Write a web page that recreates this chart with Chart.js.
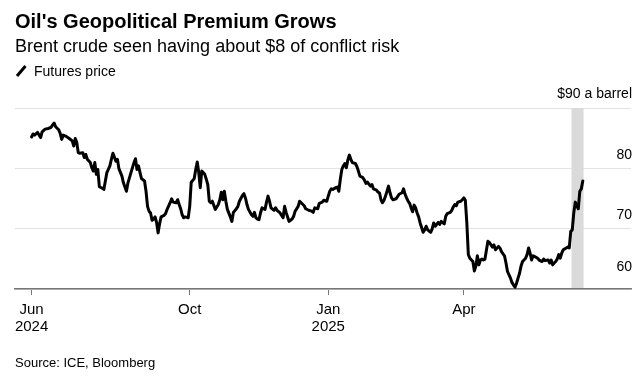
<!DOCTYPE html>
<html><head><meta charset="utf-8">
<script src="https://cdn.jsdelivr.net/npm/chart.js@4.4.1/dist/chart.umd.min.js"></script>
<style>
html,body{margin:0;padding:0;background:#fff;}
#wrap{position:relative;width:636px;height:378px;overflow:hidden;font-family:"Liberation Sans",Arial,sans-serif;color:#000;}
#c{position:absolute;left:0;top:0;}
.t{position:absolute;left:15px;white-space:nowrap;line-height:1;}
#title{top:10.5px;font-size:20px;font-weight:bold;}
#sub{top:37.3px;font-size:18px;}
#leg{top:63.8px;font-size:14px;left:34px;}
#legicon{position:absolute;left:14px;top:64px;}
#src{top:355.5px;font-size:13px;}
</style></head>
<body><div id="wrap">
<canvas id="c" width="636" height="378"></canvas>
<div class="t" id="title">Oil's Geopolitical Premium Grows</div>
<div class="t" id="sub">Brent crude seen having about $8 of conflict risk</div>
<svg id="legicon" width="14" height="14"><line x1="3" y1="12" x2="11.5" y2="2" stroke="#000" stroke-width="3"/></svg>
<div class="t" id="leg">Futures price</div>
<div class="t" id="src">Source: ICE, Bloomberg</div>
</div>
<script>
const dates = ["2024-06-18","2024-06-19","2024-06-20","2024-06-22","2024-06-24","2024-06-25","2024-06-27","2024-06-29","2024-07-01","2024-07-02","2024-07-03","2024-07-04","2024-07-06","2024-07-07","2024-07-08","2024-07-09","2024-07-11","2024-07-13","2024-07-15","2024-07-16","2024-07-17","2024-07-18","2024-07-19","2024-07-20","2024-07-22","2024-07-23","2024-07-24","2024-07-25","2024-07-27","2024-07-28","2024-07-29","2024-07-30","2024-07-31","2024-08-01","2024-08-02","2024-08-04","2024-08-05","2024-08-07","2024-08-09","2024-08-10","2024-08-11","2024-08-13","2024-08-14","2024-08-15","2024-08-17","2024-08-18","2024-08-20","2024-08-21","2024-08-23","2024-08-25","2024-08-26","2024-08-27","2024-08-28","2024-08-29","2024-08-30","2024-09-01","2024-09-02","2024-09-03","2024-09-04","2024-09-05","2024-09-06","2024-09-07","2024-09-08","2024-09-09","2024-09-10","2024-09-11","2024-09-12","2024-09-14","2024-09-15","2024-09-16","2024-09-18","2024-09-19","2024-09-20","2024-09-22","2024-09-23","2024-09-24","2024-09-25","2024-09-26","2024-09-27","2024-09-28","2024-09-30","2024-10-01","2024-10-02","2024-10-04","2024-10-05","2024-10-06","2024-10-07","2024-10-08","2024-10-09","2024-10-11","2024-10-12","2024-10-13","2024-10-14","2024-10-15","2024-10-16","2024-10-18","2024-10-20","2024-10-21","2024-10-22","2024-10-23","2024-10-24","2024-10-25","2024-10-26","2024-10-28","2024-10-29","2024-10-30","2024-11-01","2024-11-02","2024-11-03","2024-11-05","2024-11-06","2024-11-07","2024-11-08","2024-11-09","2024-11-11","2024-11-12","2024-11-13","2024-11-14","2024-11-15","2024-11-16","2024-11-17","2024-11-18","2024-11-20","2024-11-21","2024-11-22","2024-11-23","2024-11-24","2024-11-26","2024-11-27","2024-11-28","2024-11-30","2024-12-01","2024-12-02","2024-12-03","2024-12-04","2024-12-05","2024-12-06","2024-12-08","2024-12-09","2024-12-10","2024-12-12","2024-12-13","2024-12-14","2024-12-16","2024-12-17","2024-12-19","2024-12-21","2024-12-22","2024-12-23","2024-12-25","2024-12-26","2024-12-28","2024-12-29","2024-12-31","2025-01-01","2025-01-02","2025-01-03","2025-01-04","2025-01-06","2025-01-07","2025-01-08","2025-01-09","2025-01-10","2025-01-11","2025-01-12","2025-01-13","2025-01-14","2025-01-15","2025-01-16","2025-01-17","2025-01-19","2025-01-20","2025-01-21","2025-01-22","2025-01-24","2025-01-25","2025-01-26","2025-01-27","2025-01-29","2025-01-30","2025-01-31","2025-02-02","2025-02-03","2025-02-04","2025-02-05","2025-02-06","2025-02-07","2025-02-08","2025-02-09","2025-02-10","2025-02-11","2025-02-12","2025-02-13","2025-02-15","2025-02-16","2025-02-17","2025-02-19","2025-02-20","2025-02-21","2025-02-22","2025-02-23","2025-02-24","2025-02-25","2025-02-26","2025-02-27","2025-02-28","2025-03-01","2025-03-02","2025-03-03","2025-03-05","2025-03-06","2025-03-07","2025-03-08","2025-03-10","2025-03-11","2025-03-12","2025-03-13","2025-03-15","2025-03-16","2025-03-17","2025-03-19","2025-03-20","2025-03-21","2025-03-23","2025-03-24","2025-03-25","2025-03-26","2025-03-27","2025-03-28","2025-03-30","2025-03-31","2025-04-01","2025-04-02","2025-04-03","2025-04-04","2025-04-05","2025-04-07","2025-04-08","2025-04-09","2025-04-10","2025-04-11","2025-04-12","2025-04-13","2025-04-14","2025-04-15","2025-04-17","2025-04-18","2025-04-20","2025-04-21","2025-04-22","2025-04-24","2025-04-25","2025-04-26","2025-04-28","2025-04-29","2025-04-30","2025-05-02","2025-05-03","2025-05-04","2025-05-05","2025-05-06","2025-05-07","2025-05-08","2025-05-09","2025-05-10","2025-05-12","2025-05-13","2025-05-14","2025-05-15","2025-05-16","2025-05-17","2025-05-18","2025-05-20","2025-05-21","2025-05-23","2025-05-24","2025-05-25","2025-05-27","2025-05-28","2025-05-29","2025-05-30","2025-05-31","2025-06-01","2025-06-02","2025-06-03","2025-06-04","2025-06-05","2025-06-06","2025-06-08","2025-06-09","2025-06-10","2025-06-11","2025-06-12","2025-06-13","2025-06-14","2025-06-15","2025-06-16","2025-06-17","2025-06-18","2025-06-19"];
const prices = [85.2,85.7,85.5,85.95,85.1,86.05,86.5,86.6,86.8,87.2,87.5,86.9,86.4,85.8,84.8,85.5,85.3,84.95,84.55,83.7,84.95,84.3,82.6,82.5,82.6,81.8,82.3,81.5,80.95,80.1,79.55,80.95,79,79.8,76.95,76.7,76.5,79.3,80.4,81.5,82.5,81.2,81.5,79.95,78.7,77.6,76.2,77.6,79.3,80.95,81.6,79.8,80.4,79.3,78.3,77.9,76.2,73.7,72.9,72.6,71.4,71.6,71.95,71.05,69.3,70.8,71.95,72.2,72.5,73.2,74.3,74.95,74.4,74.3,74.8,74,73.3,72.3,71.8,71.95,71.8,73.7,77.7,78.3,79.8,81.05,79.3,76.8,79.55,79,78.2,77.3,74.55,74.3,74.55,73.2,74,74.8,76.05,74.8,76.2,74.55,73.2,71.95,71.2,72.7,73.3,73.7,74.55,75.5,75.8,75.1,74,73.2,72.3,72.05,72.7,71.8,71.6,71.5,72.6,73.45,73.2,74.4,75.4,74.55,73.45,73.05,73.45,73.05,72.6,72.2,71.8,73.7,72.7,71.95,71.2,71.6,72.05,72.9,73.7,74.55,74.3,73.8,73.3,73.05,72.9,72.7,73.45,73.3,74.2,74.4,74.7,74.55,75.4,76.2,76.6,76.5,76.8,76.9,76.2,78.2,79.8,80.4,80.8,80.1,81.4,82.2,81.5,80.95,80.8,80.3,79.55,78.7,78.45,78.05,77.5,77.7,77.05,77.3,76.6,76.4,76.05,75.95,74.8,74.3,74.7,75.4,76.2,77.05,75.95,75.1,74.8,74.95,75.3,75.7,75.95,76.6,75.7,75.1,74.55,74.2,73.45,72.8,73.9,73.45,72.6,71.95,70.95,69.4,69.8,70.4,69.8,69.4,69.95,70.95,70.4,71.05,70.7,71.2,70.8,72.05,72.5,72.7,73.05,73.6,74,73.8,74.4,74.55,74.8,75.1,74.7,70.95,65.7,65.1,64.55,63.0,63.8,65.5,64,64.8,64.95,64.8,64.95,67.9,67.7,66.95,67.3,66.5,67.05,66.8,66.2,65.5,64.3,62.9,61.8,61.05,60.65,60.3,60.95,61.8,62.6,63.8,64.55,65.1,65.7,66.8,65.95,64.8,65.5,65.4,65.1,64.8,64.55,64.95,64.7,64.8,64.3,64.8,64,64.3,64.55,64.95,65.7,65.1,65.95,66.5,66.8,66.95,66.8,69.55,69.8,72.6,74.4,73.8,73.3,76.2,76.6,77.9];
const tickDates = ["2024-06-18","2024-10-01","2025-01-01","2025-04-01"];
const tickLabels = [["Jun","2024"],["Oct"],["Jan","2025"],["Apr"]];
const yTicks = [60,70,80,90];
const yTickLabels = ["60","70","80","$90 a barrel"];
const bandDates = ["2025-06-12","2025-06-19"];
const axisRange = ["2024-06-07","2025-07-21"];

const DAY = 86400000, ORIGIN = Date.UTC(2024,5,1);
const dayOf = s => (Date.parse(s + "T00:00:00Z") - ORIGIN) / DAY;
const FONT = '"Liberation Sans", Arial, sans-serif';

const bandPlugin = {
  id: 'band',
  beforeDatasetsDraw(chart) {
    const {ctx, chartArea: a, scales: {x}} = chart;
    const x0 = x.getPixelForValue(dayOf(bandDates[0]) - 0.5);
    const x1 = x.getPixelForValue(dayOf(bandDates[1]) + 0.5);
    ctx.save();
    ctx.fillStyle = '#dadada';
    ctx.fillRect(x0, a.top, x1 - x0, a.bottom - a.top - 1);
    ctx.restore();
  }
};

new Chart(document.getElementById('c'), {
  type: 'line',
  data: {
    datasets: [{
      data: dates.map((d, i) => ({x: dayOf(d), y: prices[i]})),
      borderColor: '#000',
      borderWidth: 3,
      pointRadius: 0,
      tension: 0,
      borderJoinStyle: 'round',
      borderCapStyle: 'round'
    }]
  },
  options: {
    responsive: false,
    animation: false,
    devicePixelRatio: 1,
    layout: {padding: {left: 15, right: 5, top: 108, bottom: 0}},
    plugins: {legend: {display: false}, tooltip: {enabled: false}},
    scales: {
      x: {
        type: 'linear',
        min: dayOf(axisRange[0]),
        max: dayOf(axisRange[1]),
        afterBuildTicks: s => { s.ticks = tickDates.map(d => ({value: dayOf(d)})); },
        afterFit: s => { s.height = 378 - 289; s.paddingLeft = 0; s.paddingRight = 0; },
        ticks: {
          autoSkip: false, maxRotation: 0, minRotation: 0, color: '#000', padding: 7,
          font: {family: FONT, size: 15, lineHeight: 1.1},
          callback: (v, i) => tickLabels[i]
        },
        grid: {drawOnChartArea: false, drawTicks: true, tickLength: 6, color: '#777', lineWidth: 1},
        border: {display: true, color: '#777', width: 1.5}
      },
      y: {
        position: 'right',
        min: 60, max: 90,
        afterBuildTicks: s => { s.ticks = yTicks.map(v => ({value: v})); },
        afterFit: s => { s.width = 0; s.paddingTop = 0; s.paddingBottom = 0; },
        ticks: {
          mirror: true, padding: 1, labelOffset: -13.5, color: '#000',
          font: {family: FONT, size: 14, lineHeight: 1.2},
          callback: (v, i) => i === 0 ? [yTickLabels[0], ''] : yTickLabels[i]
        },
        grid: {color: '#e3e3e3', lineWidth: 1, drawTicks: false},
        border: {display: false}
      }
    }
  },
  plugins: [bandPlugin]
});
</script>
</body></html>
